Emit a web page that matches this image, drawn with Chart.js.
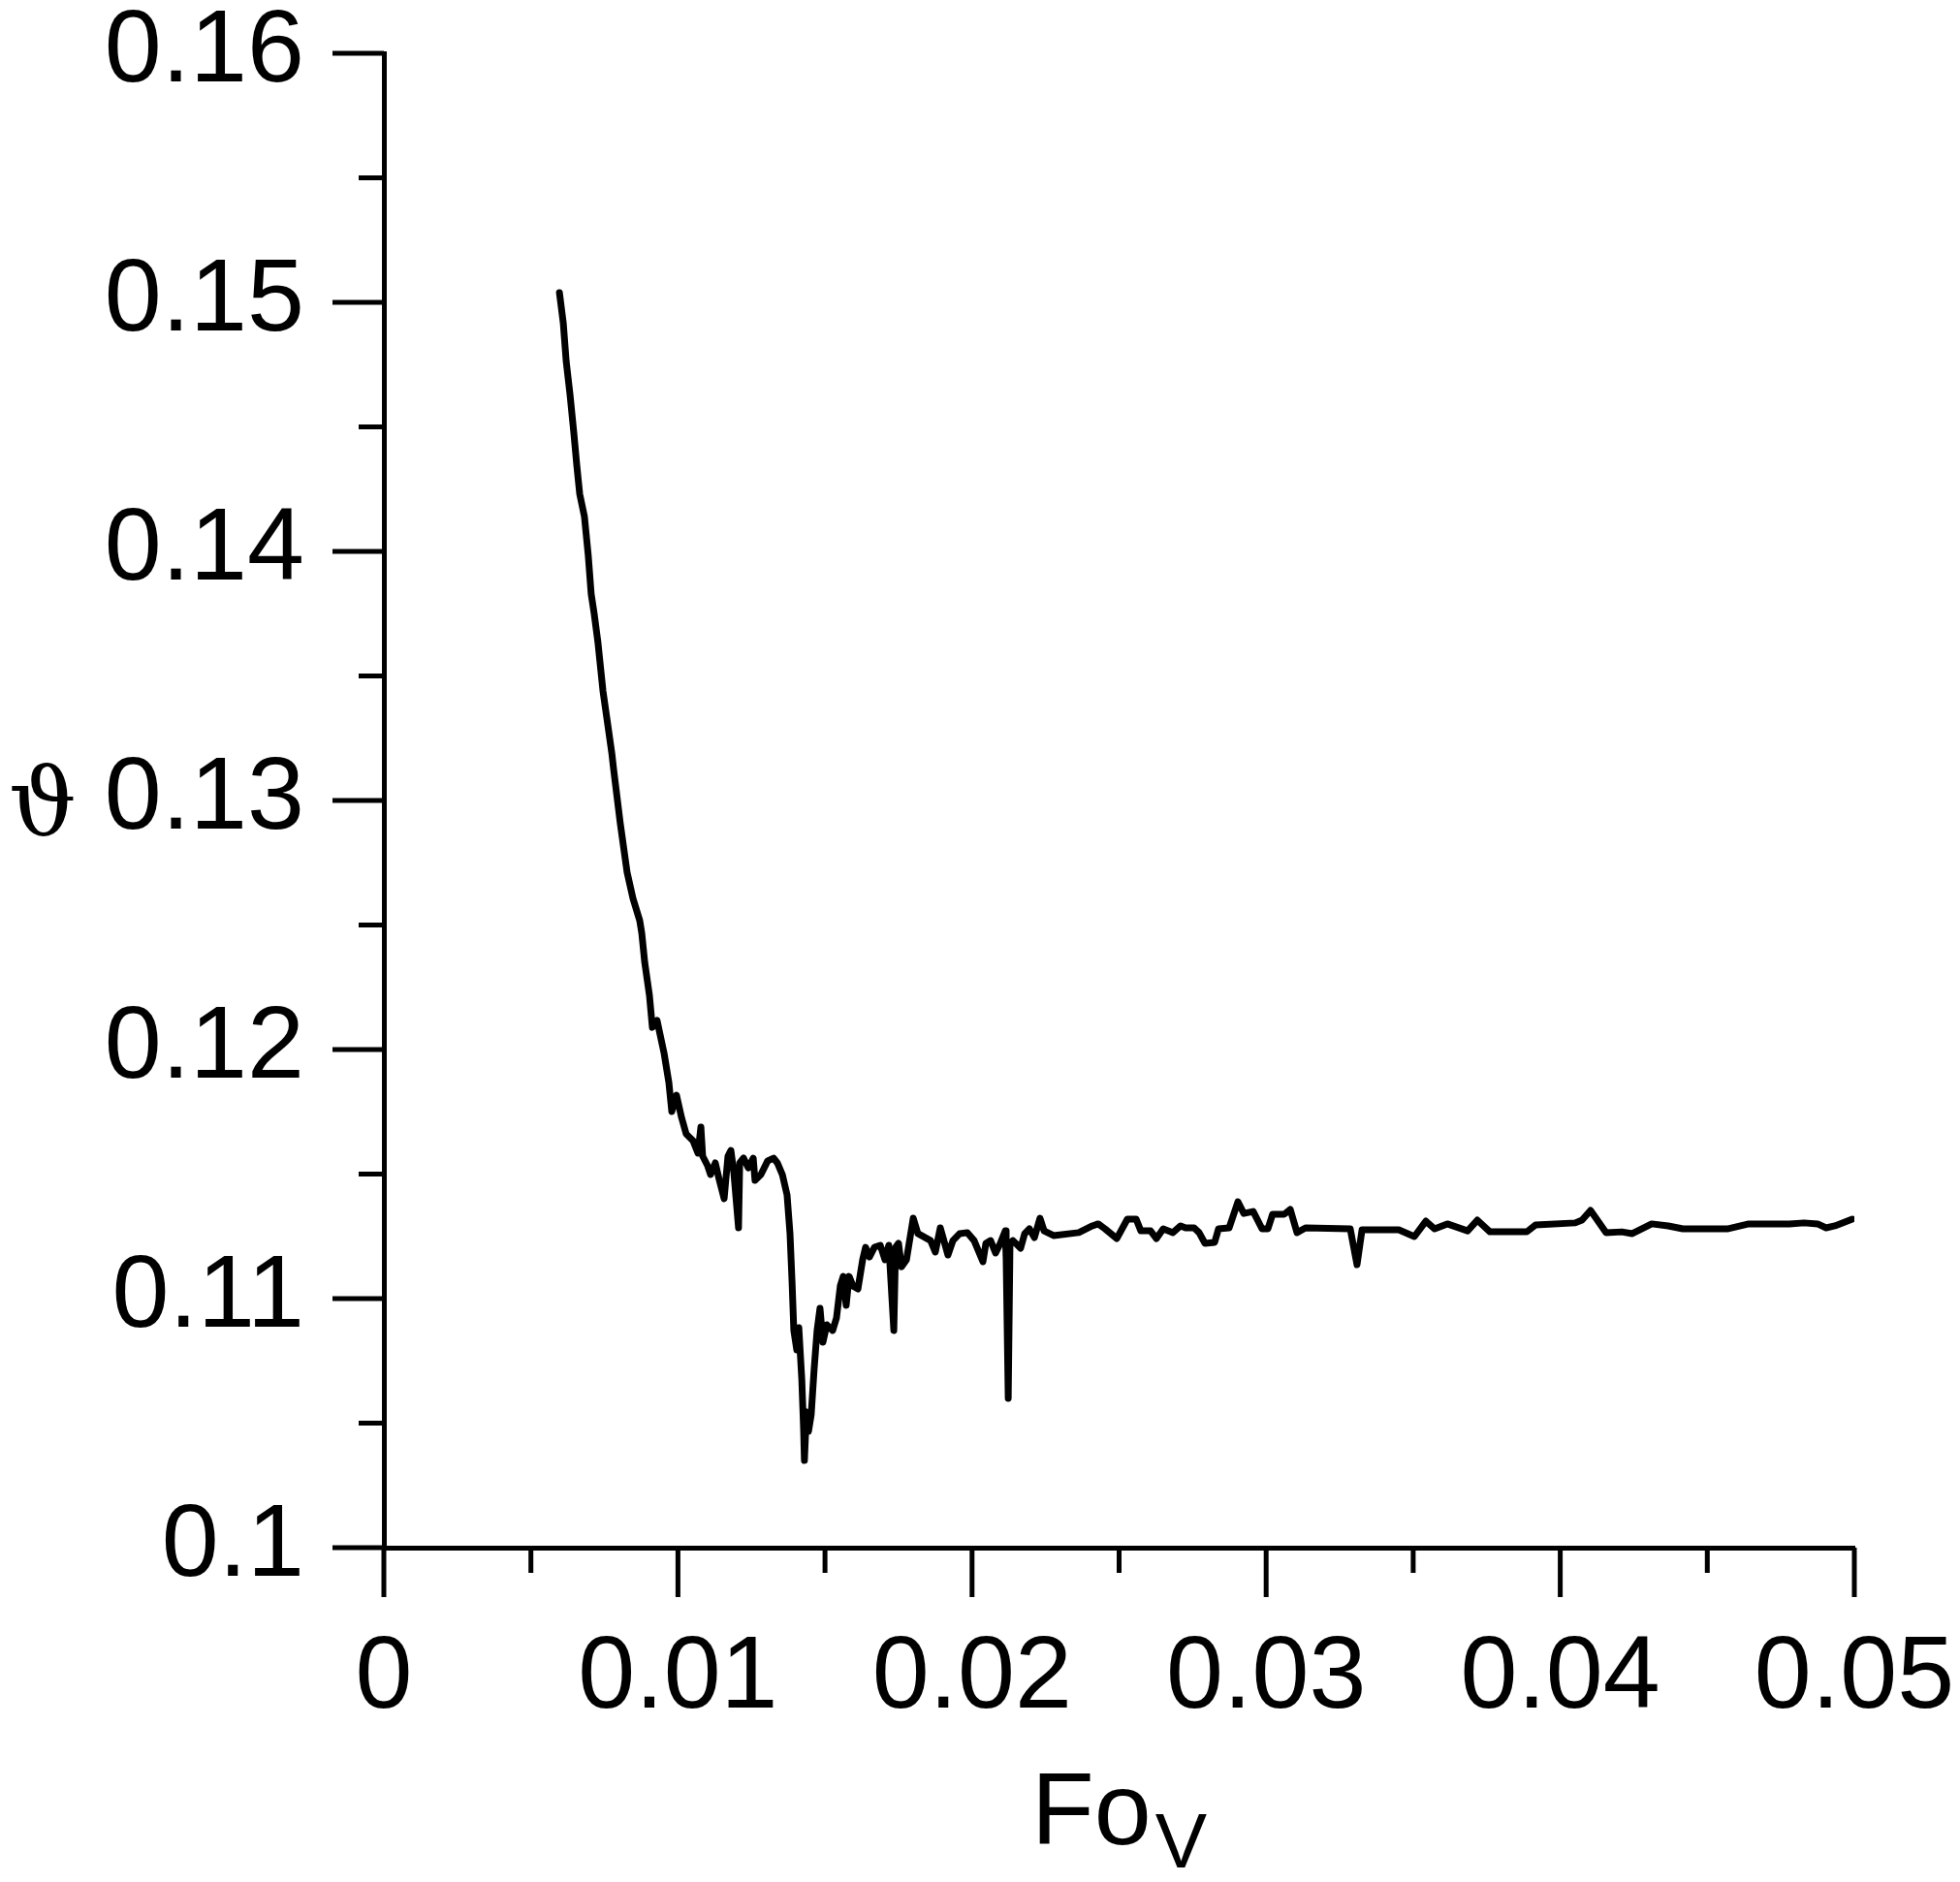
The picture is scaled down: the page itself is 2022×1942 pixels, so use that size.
<!DOCTYPE html>
<html>
<head>
<meta charset="utf-8">
<script src="https://cdn.jsdelivr.net/npm/chart.js"></script>
<style>
  body { margin: 0; background: #fff; }
</style>
</head>
<body>
<canvas id="myChart" width="2022" height="1942"></canvas>
<script>
// tick labels
const xTicks = [0, 0.01, 0.02, 0.03, 0.04, 0.05];
const yTicks = [0.1, 0.11, 0.12, 0.13, 0.14, 0.15, 0.16];

// Fo_V values (x)
const fov = [
  0.00597, 0.00610, 0.00620, 0.00633, 0.00646, 0.00656, 0.00666, 0.00682, 0.00695, 0.00705,
  0.00715, 0.00728, 0.00745, 0.00761, 0.00775, 0.00781, 0.00804, 0.00827, 0.00847, 0.00870,
  0.00877, 0.00887, 0.00903, 0.00913, 0.00929, 0.00953, 0.00969, 0.00979, 0.00995, 0.01012,
  0.01028, 0.01051, 0.01068, 0.01078, 0.01084, 0.01101, 0.01111, 0.01127, 0.01140, 0.01157,
  0.01170, 0.01180, 0.01190, 0.01206, 0.01210, 0.01223, 0.01239, 0.01256, 0.01262, 0.01282,
  0.01305, 0.01325, 0.01338, 0.01355, 0.01371, 0.01381, 0.01388, 0.01394, 0.01404, 0.01411,
  0.01421, 0.01427, 0.01430, 0.01437, 0.01444, 0.01453, 0.01463, 0.01473, 0.01483, 0.01493,
  0.01506, 0.01526, 0.01539, 0.01552, 0.01562, 0.01572, 0.01582, 0.01595, 0.01612, 0.01628,
  0.01638, 0.01651, 0.01668, 0.01688, 0.01704, 0.01717, 0.01734, 0.01740, 0.01750, 0.01760,
  0.01777, 0.01800, 0.01816, 0.01859, 0.01875, 0.01892, 0.01918, 0.01935, 0.01958, 0.01984,
  0.02007, 0.02037, 0.02047, 0.02063, 0.02080, 0.02096, 0.02113, 0.02116, 0.02123, 0.02129,
  0.02139, 0.02165, 0.02179, 0.02195, 0.02212, 0.02231, 0.02245, 0.02277, 0.02363, 0.02409,
  0.02429, 0.02452, 0.02492, 0.02528, 0.02558, 0.02574, 0.02607, 0.02627, 0.02650, 0.02683,
  0.02709, 0.02726, 0.02755, 0.02772, 0.02792, 0.02825, 0.02838, 0.02874, 0.02904, 0.02924,
  0.02956, 0.02986, 0.03006, 0.03022, 0.03062, 0.03082, 0.03105, 0.03134, 0.03286, 0.03309,
  0.03326, 0.03451, 0.03504, 0.03543, 0.03573, 0.03616, 0.03685, 0.03718, 0.03761, 0.03886,
  0.03916, 0.04051, 0.04074, 0.04103, 0.04156, 0.04209, 0.04245, 0.04311, 0.04367, 0.04417,
  0.04568, 0.04641, 0.04779, 0.04829, 0.04875, 0.04904, 0.04934, 0.04993
];

// theta values (y)
const theta = [
  0.15039, 0.14918, 0.14763, 0.14630, 0.14475, 0.14346, 0.14230, 0.14140, 0.13984, 0.13829,
  0.13751, 0.13634, 0.13440, 0.13307, 0.13191, 0.13128, 0.12907, 0.12712, 0.12607, 0.12518,
  0.12467, 0.12350, 0.12218, 0.12089, 0.12117, 0.11984, 0.11868, 0.11751, 0.11817, 0.11728,
  0.11661, 0.11634, 0.11584, 0.11689, 0.11572, 0.11533, 0.11498, 0.11545, 0.11479, 0.11401,
  0.11572, 0.11595, 0.11506, 0.11284, 0.11545, 0.11564, 0.11525, 0.11564, 0.11475, 0.11498,
  0.11553, 0.11564, 0.11545, 0.11498, 0.11416, 0.11261, 0.11066, 0.10872, 0.10794, 0.10883,
  0.10677, 0.10482, 0.10350, 0.10545, 0.10467, 0.10533, 0.10716, 0.10872, 0.10961, 0.10825,
  0.10895, 0.10872, 0.10922, 0.11051, 0.11089, 0.10973, 0.11089, 0.11051, 0.11039, 0.11156,
  0.11206, 0.11167, 0.11206, 0.11214, 0.11156, 0.11214, 0.10872, 0.11206, 0.11222, 0.11128,
  0.11156, 0.11323, 0.11261, 0.11233, 0.11187, 0.11284, 0.11175, 0.11233, 0.11261, 0.11265,
  0.11233, 0.11148, 0.11222, 0.11233, 0.11183, 0.11222, 0.11272, 0.11156, 0.10599, 0.11222,
  0.11233, 0.11202, 0.11261, 0.11280, 0.11245, 0.11323, 0.11272, 0.11253, 0.11265, 0.11292,
  0.11300, 0.11280, 0.11241, 0.11319, 0.11319, 0.11272, 0.11272, 0.11241, 0.11280, 0.11265,
  0.11292, 0.11284, 0.11284, 0.11265, 0.11222, 0.11226, 0.11280, 0.11284, 0.11389, 0.11342,
  0.11350, 0.11280, 0.11280, 0.11339, 0.11339, 0.11358, 0.11265, 0.11284, 0.11280, 0.11136,
  0.11276, 0.11276, 0.11249, 0.11311, 0.11280, 0.11300, 0.11272, 0.11315, 0.11268, 0.11268,
  0.11296, 0.11304, 0.11315, 0.11354, 0.11265, 0.11268, 0.11261, 0.11300, 0.11292, 0.11280,
  0.11280, 0.11300, 0.11300, 0.11304, 0.11300, 0.11284, 0.11292, 0.11319
];

const points = fov.map((x, i) => ({ x: x, y: theta[i] }));

const fmt = v => parseFloat(Number(v).toFixed(3)).toString();

// ticks (major + minor) and the two axis titles
const axisMarks = {
  id: 'axisMarks',
  afterDraw(chart) {
    const c = chart.ctx;
    const xs = chart.scales.x;
    const ys = chart.scales.y;
    const area = chart.chartArea;
    c.save();
    c.strokeStyle = '#000';
    c.lineWidth = 5;
    c.beginPath();
    xTicks.forEach((v, i) => {
      const p = xs.getPixelForValue(v);
      c.moveTo(p, area.bottom);
      c.lineTo(p, area.bottom + 51);
      if (i < xTicks.length - 1) {
        const m = xs.getPixelForValue((v + xTicks[i + 1]) / 2);
        c.moveTo(m, area.bottom);
        c.lineTo(m, area.bottom + 26);
      }
    });
    yTicks.forEach((v, i) => {
      const p = ys.getPixelForValue(v);
      c.moveTo(area.left, p);
      c.lineTo(area.left - 53, p);
      if (i < yTicks.length - 1) {
        const m = ys.getPixelForValue((v + yTicks[i + 1]) / 2);
        c.moveTo(area.left, m);
        c.lineTo(area.left - 26, m);
      }
    });
    c.stroke();

    // x title: Fo with subscript V
    c.fillStyle = '#000';
    c.textBaseline = 'alphabetic';
    c.textAlign = 'left';
    c.font = '106px "Liberation Sans", Arial, sans-serif';
    const wFo = c.measureText('Fo').width;
    c.font = '80px "Liberation Sans", Arial, sans-serif';
    const wV = c.measureText('V').width;
    const cx = (area.left + area.right) / 2;
    const x0 = cx - (wFo + wV + 4) / 2;
    c.font = '106px "Liberation Sans", Arial, sans-serif';
    c.fillText('Fo', x0, area.bottom + 306);
    c.font = '80px "Liberation Sans", Arial, sans-serif';
    c.fillText('V', x0 + wFo + 4, area.bottom + 330);

    // y title
    c.textAlign = 'center';
    c.font = '98px "DejaVu Serif", "Liberation Serif", serif';
    c.fillText('\u03D1', 44, ys.getPixelForValue(0.13) + 36);
    c.restore();
  }
};

Chart.defaults.font.family = '"Liberation Sans", Arial, sans-serif';
Chart.defaults.color = '#000000';

const ctx = document.getElementById('myChart');

const chart = new Chart(ctx, {
  type: 'line',
  data: {
    datasets: [{
      data: points,
      borderColor: '#000000',
      borderWidth: 7,
      pointRadius: 0,
      tension: 0,
      fill: false,
      borderJoinStyle: 'round',
      borderCapStyle: 'round'
    }]
  },
  options: {
    responsive: false,
    animation: false,
    devicePixelRatio: 1,
    layout: {
      padding: { left: 0, top: 55, right: 109, bottom: 0 }
    },
    plugins: {
      legend: { display: false },
      tooltip: { enabled: false }
    },
    scales: {
      x: {
        type: 'linear',
        min: 0,
        max: 0.05,
        afterBuildTicks: s => { s.ticks = xTicks.map(v => ({ value: v })); },
        afterFit: s => { s.height = 345; s.paddingLeft = 0; s.paddingRight = 0; },
        grid: { display: false, drawTicks: false },
        border: { display: true, color: '#000000', width: 5 },
        ticks: {
          font: { size: 106 },
          padding: 72,
          maxRotation: 0,
          autoSkip: false,
          callback: fmt
        }
      },
      y: {
        type: 'linear',
        min: 0.1,
        max: 0.16,
        afterBuildTicks: s => { s.ticks = yTicks.map(v => ({ value: v })); },
        afterFit: s => { s.width = 396; s.paddingTop = 0; s.paddingBottom = 0; },
        grid: { display: false, drawTicks: false },
        border: { display: true, color: '#000000', width: 5 },
        ticks: {
          font: { size: 106 },
          padding: 82,
          autoSkip: false,
          callback: fmt
        }
      }
    }
  },
  plugins: [axisMarks]
});
</script>
</body>
</html>
